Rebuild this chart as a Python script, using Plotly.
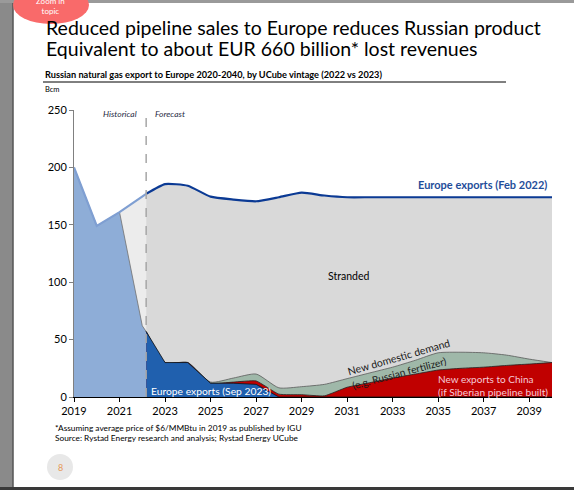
import plotly.graph_objects as go
import numpy as np

# ---------------- data ----------------
FORECAST_START = 2022.17

feb_years = [2019, 2020, 2021, 2022.17, 2023, 2024, 2025, 2026, 2027, 2028, 2029, 2030,
             2031, 2032, 2033, 2034, 2035, 2036, 2037, 2038, 2039, 2040]
feb_values = [200, 149, 161, 177, 185.5, 184, 174.5, 172, 170.5, 174, 178, 175.5,
              174, 174, 174, 174, 174, 174, 174, 174, 174, 174]

hist_years = [2019, 2020, 2021, 2022, 2022.17]
hist_values = [200, 149, 161, 62, 57]

fc_years = [2022.17, 2023, 2024, 2025, 2026, 2027, 2028, 2029, 2030, 2031, 2032,
            2033, 2034, 2035, 2036, 2037, 2038, 2039, 2040]
sep_values = [57, 30, 30, 12, 12, 11, 0, 0, 0, 0, 0, 0, 0, 0, 0, 0, 0, 0, 0]
china_values = [0, 0, 0, 0, 1, 3, 2.5, 2, 1, 8.5, 12.5, 16.5, 20, 23.5, 25, 26, 27.5, 28.7, 30]
domestic_values = [0, 0, 0, 1, 3.5, 6, 5.5, 7, 10, 7.5, 8.5, 9.5, 12, 15, 14, 12.5, 9, 4.3, 0]

x_ticks = [2019, 2021, 2023, 2025, 2027, 2029, 2031, 2033, 2035, 2037, 2039]
y_ticks = [0, 50, 100, 150, 200, 250]

split = 4  # number of historical points in feb arrays (2022.17 shared)
red_top = np.array(sep_values) + np.array(china_values)
green_top = red_top + np.array(domestic_values)

FONT = "Lato"
W, H = 574, 490
ML, MR, MT, MB = 74, 22, 110, 93
PW, PH = W - ML - MR, H - MT - MB

def px(x):
    return (x - ML) / PW

def py(y):
    return (H - MB - y) / PH

fig = go.Figure()

# historical stranded (light grey)
fig.add_trace(go.Scatter(x=feb_years[:split], y=feb_values[:split], fill="tozeroy",
                         fillcolor="#ececec", mode="none", showlegend=False, hoverinfo="skip"))
# forecast stranded (grey) with Feb 2022 line
fig.add_trace(go.Scatter(x=feb_years[split - 1:], y=feb_values[split - 1:], fill="tozeroy",
                         fillcolor="#d9d9d9", mode="lines",
                         line=dict(color="#0b3a94", width=2.2, shape="spline", smoothing=0.5),
                         showlegend=False, hoverinfo="skip"))
# historical exports (light blue)
fig.add_trace(go.Scatter(x=hist_years, y=hist_values, fill="tozeroy", fillcolor="#8eadd7",
                         mode="lines", line=dict(color="#707070", width=0.8),
                         showlegend=False, hoverinfo="skip"))
# historical Feb 2022 line
fig.add_trace(go.Scatter(x=feb_years[:split], y=feb_values[:split], mode="lines",
                         line=dict(color="#7f9fd2", width=2.2), showlegend=False, hoverinfo="skip"))
# new domestic demand (green), stacked top
fig.add_trace(go.Scatter(x=fc_years, y=green_top, fill="tozeroy", fillcolor="#9fb8a9",
                         mode="lines", line=dict(color="#5a5a5a", width=0.8, shape="spline", smoothing=0.6),
                         showlegend=False, hoverinfo="skip"))
# new exports to China (red)
fig.add_trace(go.Scatter(x=fc_years, y=red_top, fill="tozeroy", fillcolor="#c00000",
                         mode="lines", line=dict(color="#222222", width=0.8, shape="spline", smoothing=0.4),
                         showlegend=False, hoverinfo="skip"))
# Europe exports Sep 2023 (dark blue)
fig.add_trace(go.Scatter(x=fc_years, y=sep_values, fill="tozeroy", fillcolor="#2060ae",
                         mode="lines", line=dict(color="#111111", width=0.8),
                         showlegend=False, hoverinfo="skip"))

shapes = [
    # forecast divider
    dict(type="line", xref="x", yref="y", x0=FORECAST_START, x1=FORECAST_START, y0=0, y1=253,
         line=dict(color="#a6a6a6", width=1.5, dash="dash")),
    # left grey frame
    dict(type="rect", xref="paper", yref="paper", x0=px(0), x1=px(13), y0=py(H), y1=py(0),
         fillcolor="#8a8a8a", line=dict(width=0), layer="above"),
    dict(type="line", xref="paper", yref="paper", x0=px(13), x1=px(13), y0=py(H), y1=py(0),
         line=dict(color="#555555", width=1.5), layer="above"),
    # top bar
    dict(type="rect", xref="paper", yref="paper", x0=px(0), x1=px(W), y0=py(3), y1=py(0),
         fillcolor="#9a9a9a", line=dict(width=0), layer="above"),
    # bottom bar
    dict(type="rect", xref="paper", yref="paper", x0=px(0), x1=px(W), y0=py(H), y1=py(487),
         fillcolor="#3a3a3a", line=dict(width=0), layer="above"),
    # red "Zoom in topic" blob
    dict(type="circle", xref="paper", yref="paper", x0=px(13), x1=px(89), y0=py(24), y1=py(-14),
         fillcolor="#f96a6a", line=dict(width=0), layer="above"),
    # subtitle underline
    dict(type="line", xref="paper", yref="paper", x0=px(43), x1=px(506), y0=py(82), y1=py(82),
         line=dict(color="#000000", width=1)),
    # page number circle
    dict(type="circle", xref="paper", yref="paper", x0=px(47), x1=px(73), y0=py(480), y1=py(454),
         fillcolor="#e8e8e8", line=dict(width=0)),
]

def pann(text, x, y, size, color="#000000", xanchor="left", yanchor="middle", **kw):
    fig.add_annotation(text=text, xref="paper", yref="paper", x=px(x), y=py(y),
                       xanchor=xanchor, yanchor=yanchor, showarrow=False,
                       font=dict(family=FONT, size=size, color=color), **kw)

def dann(text, x, y, size, color="#000000", xanchor="center", **kw):
    fig.add_annotation(text=text, xref="x", yref="y", x=x, y=y, xanchor=xanchor, yanchor="middle",
                       showarrow=False, font=dict(family=FONT, size=size, color=color), **kw)

# titles
pann("Reduced pipeline sales to Europe reduces Russian product", 44, 28, 19.5)
pann("Equivalent to about EUR 660 billion* lost revenues", 44, 48.5, 19.5)
pann("<b>Russian natural gas export to Europe 2020-2040, by UCube vintage (2022 vs 2023)</b>", 43, 75, 9.2)
pann("Bcm", 43, 90, 7.5)
pann("Zoom in<br>topic", 50, 5.5, 8, color="#ffffff", xanchor="center", borderpad=0)
pann("*Assuming average price of $6/MMBtu in 2019 as published by IGU", 53, 428, 8.3)
pann("Source: Rystad Energy research and analysis; Rystad Energy UCube", 53, 438, 8.3)
pann("8", 60, 467, 9, color="#e69a5a", xanchor="center")

# chart labels
dann("<i>Historical</i>", 2021.86, 246.5, 8.5, color="#1f2a44", xanchor="right")
dann("<i>Forecast</i>", 2022.47, 246.5, 8.5, color="#1f2a44", xanchor="left")
dann("Stranded", 2031.08, 105.5, 10.5)
dann("<b>Europe exports (Feb 2022)</b>", 2039.87, 185, 11, color="#1f4e9a", xanchor="right")
dann("Europe exports (Sep 2023)", 2022.3, 5, 10.3, color="#ffffff", xanchor="left")
dann("New domestic demand", 2033.28, 34.5, 10.5, color="#1a1a1a", textangle=-16)
dann("(e.g. Russian fertilizer)", 2033.3, 20.5, 10.2, color="#1a1a1a", textangle=-15)
dann("New exports to China", 2034.9, 15.7, 10, color="#f6c9d6", xanchor="left")
dann("(if Siberian pipeline built)", 2034.9, 4.4, 10.2, color="#f6c9d6", xanchor="left")

fig.update_layout(
    width=W, height=H,
    margin=dict(l=ML, r=MR, t=MT, b=MB),
    paper_bgcolor="#ffffff", plot_bgcolor="#ffffff",
    shapes=shapes,
    font=dict(family=FONT, size=10, color="#000000"),
    xaxis=dict(range=[2019, 2040], tickvals=x_ticks, ticktext=[str(t) for t in x_ticks],
               showgrid=False, zeroline=False, showline=True, linecolor="#000000", linewidth=1,
               ticks="outside", ticklen=4, tickcolor="#000000",
               tickfont=dict(family=FONT, size=11, color="#000000")),
    yaxis=dict(range=[0, 250], tickvals=y_ticks, showgrid=False, zeroline=False,
               showline=True, linecolor="#808080", linewidth=1,
               ticks="outside", ticklen=4, tickcolor="#808080",
               tickfont=dict(family=FONT, size=11, color="#000000")),
)

fig.write_html("out.html")
